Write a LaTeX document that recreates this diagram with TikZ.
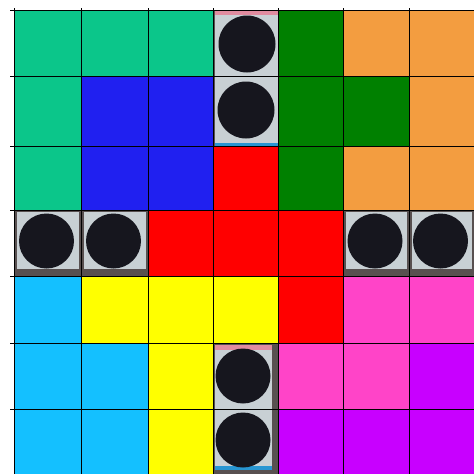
\documentclass[tikz,border=0pt]{standalone}
\definecolor{cgreen}{RGB}{11,198,138}
\definecolor{cdgreen}{RGB}{0,128,0}
\definecolor{corange}{RGB}{243,157,64}
\definecolor{cblue}{RGB}{32,32,240}
\definecolor{cred}{RGB}{255,0,0}
\definecolor{ccyan}{RGB}{20,192,255}
\definecolor{cyell}{RGB}{255,255,0}
\definecolor{cpink}{RGB}{255,68,200}
\definecolor{cpurp}{RGB}{200,0,255}
\definecolor{tlight}{RGB}{200,208,212}
\definecolor{tframe}{RGB}{88,80,80}
\definecolor{tdisc}{RGB}{22,22,30}
\definecolor{tpinkish}{RGB}{225,140,160}
\definecolor{tbluish}{RGB}{40,150,210}
\definecolor{cwhite}{RGB}{255,255,255}
\tikzset{gridline/.style={line width=1pt,draw=black},
  disc/.style={fill=tdisc}}
\begin{document}
\begin{tikzpicture}[x=1pt,y=-1pt]
\useasboundingbox (0,0) rectangle (474,474);
\fill[cwhite] (0,0) rectangle (474,474);
% cell colours row by row
\foreach \cols [count=\r from 0] in {
 {cgreen,cgreen,cgreen,tlight,cdgreen,corange,corange},
 {cgreen,cblue,cblue,tlight,cdgreen,cdgreen,corange},
 {cgreen,cblue,cblue,cred,cdgreen,corange,corange},
 {tlight,tlight,cred,cred,cred,tlight,tlight},
 {ccyan,cyell,cyell,cyell,cred,cpink,cpink},
 {ccyan,ccyan,cyell,tlight,cpink,cpink,cpurp},
 {ccyan,ccyan,cyell,tlight,cpurp,cpurp,cpurp}}{
  \foreach \col [count=\c from 0] in \cols {
    \pgfmathsetmacro{\xa}{{14,81,148,213,278,343,409,474}[\c]}
    \pgfmathsetmacro{\xb}{{14,81,148,213,278,343,409,474}[\c+1]}
    \pgfmathsetmacro{\ya}{{10,76,146,210,276,343,409,474}[\r]}
    \pgfmathsetmacro{\yb}{{10,76,146,210,276,343,409,474}[\r+1]}
    \fill[\col] (\xa,\ya) rectangle (\xb,\yb);
  }
}
% tiles in row 3 (frame with thick bottom)
\foreach \xa/\xb in {14/81,81/148,343/409,409/474}{
  \fill[tframe] (\xa,210) rectangle (\xb,276);
  \fill[tlight] (\xa+3,212) rectangle (\xb-2,269);
  \fill[disc] ({(\xa+\xb)/2-1},241) circle (27.5);
}
% tiles in column 3
\fill[tframe] (213,10) rectangle (278,146);
\fill[tlight] (215,10) rectangle (278,144);
\fill[tpinkish] (215,10) rectangle (278,15);
\draw[tframe,line width=1pt] (215,76) -- (278,76);
\fill[tbluish] (215,143) rectangle (278,146);
\fill[disc] (247,44) circle (28.5);
\fill[disc] (246,110) circle (28.5);
\fill[tframe] (213,343) rectangle (278,474);
\fill[tlight] (215,345) rectangle (272,470);
\fill[tpinkish] (215,345) rectangle (272,350);
\draw[tframe,line width=1pt] (215,409) -- (272,409);
\fill[tbluish] (215,466) rectangle (272,470);
\fill[disc] (243,376) circle (27.5);
\fill[disc] (243,440) circle (27.5);
% grid lines
\foreach \x in {14,81,148,213,278,343,409}
  \draw[gridline] (\x,8) -- (\x,474);
\foreach \y in {10,76,146,210,276,343,409}
  \draw[gridline] (10,\y) -- (474,\y);
\end{tikzpicture}
\end{document}
